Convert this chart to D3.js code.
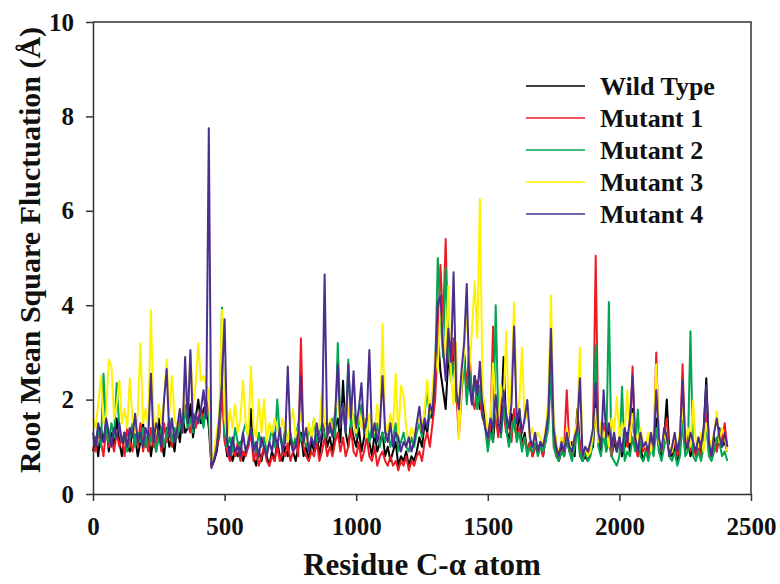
<!DOCTYPE html>
<html>
<head>
    <meta charset="utf-8">
    <title>RMSF</title>
    <style>
        * { margin: 0; padding: 0; }
        body { background: #fff; }
        text { font-family: "Liberation Serif", "Times New Roman", serif; font-weight: bold; fill: #111; }
    </style>
    <script src="https://cdn.jsdelivr.net/npm/d3@7"></script>
</head>
<body>
    <div id="root"></div>

    <script>
        // residue index of every sample (one sample each 10 residues)
        var residues = d3.range(0, 2411, 10);

        var seriesNames = ["Wild Type", "Mutant 1", "Mutant 2", "Mutant 3", "Mutant 4"];
        var seriesColors = ["#000000", "#ed1c24", "#00a650", "#fff200", "#4b2e8f"];
        var xTicks = [0, 500, 1000, 1500, 2000, 2500];
        var yTicks = [0, 2, 4, 6, 8, 10];

        var wildType = [
            0.9, 1.2, 0.8, 1.4, 1.1, 1.5, 0.9, 1.3, 1.0, 1.6,
            1.1, 0.8, 1.3, 1.0, 0.9, 1.4, 1.2, 0.8, 1.1, 1.5,
            1.0, 1.3, 0.8, 1.2, 0.9, 1.6, 1.1, 0.8, 1.4, 1.0,
            1.2, 0.9, 1.5, 1.1, 1.7, 1.3, 1.4, 1.9, 1.2, 1.6,
            2.0, 1.5, 1.8, 1.9, 1.4, 0.6, 0.7, 0.9, 1.3, 2.7,
            1.2, 0.8, 1.0, 0.7, 0.9, 0.8, 1.1, 0.7, 0.9, 1.0,
            1.8, 0.8, 0.6, 0.9, 0.7, 1.0, 0.8, 0.6, 0.9, 0.7,
            1.1, 0.8, 0.7, 1.0, 0.8, 1.2, 0.9, 0.7, 1.0, 1.3,
            0.8, 1.0, 0.7, 1.1, 0.9, 1.3, 0.8, 1.2, 1.5, 1.0,
            1.2, 0.9, 1.4, 1.6, 1.1, 2.4, 1.3, 1.0, 1.5, 1.2,
            1.0, 1.4, 0.9, 1.2, 1.6, 1.1, 0.8, 1.3, 0.9, 1.1,
            1.3, 0.8, 1.0, 0.7, 0.9, 1.1, 0.6, 0.8, 0.7, 0.9,
            0.6, 0.8, 0.7, 0.9, 1.2, 1.0, 1.5, 1.3, 1.8, 1.6,
            2.3, 3.4, 2.6, 2.2, 1.8, 2.9, 2.5, 3.1, 2.0, 1.7,
            2.4, 3.0, 2.1, 2.7, 1.9, 2.5, 2.2, 1.8, 2.0, 1.6,
            1.2, 1.5, 1.1, 1.8, 1.3, 1.6, 2.9, 1.4, 1.1, 1.7,
            1.5, 1.2, 1.8, 1.0, 1.3, 0.9, 1.1, 0.8, 1.0, 0.9,
            1.1, 0.8, 1.2, 1.6, 3.3, 1.3, 0.9, 0.7, 1.0, 0.8,
            1.2, 0.9, 1.1, 0.8, 1.8, 1.0, 0.7, 0.8, 0.7, 0.9,
            1.0, 2.0, 1.2, 0.9, 1.3, 1.0, 1.4, 0.8, 1.1, 0.9,
            1.2, 0.8, 1.0, 1.3, 0.9, 1.8, 1.1, 0.8, 1.0, 0.7,
            0.9, 0.8, 1.1, 0.9, 1.6, 1.0, 0.8, 1.2, 2.0, 0.9,
            0.8, 1.0, 0.7, 1.1, 1.7, 0.9, 1.2, 0.8, 1.0, 0.9,
            1.1, 0.8, 1.3, 2.45, 1.0, 0.8, 1.2, 0.9, 1.4, 1.0,
            1.1, 0.9
        ];

        var mutant1 = [
            1.0, 0.9, 1.3, 1.1, 0.8, 1.4, 1.0, 1.2, 0.9, 1.3,
            1.0, 1.2, 0.8, 1.4, 1.1, 0.9, 1.3, 1.0, 1.5, 0.9,
            1.2, 0.9, 1.4, 1.0, 1.1, 1.3, 0.9, 1.5, 1.1, 1.4,
            1.0, 1.3, 1.2, 1.6, 1.4, 1.9, 1.5, 1.3, 1.7, 1.4,
            1.6, 1.8, 1.5, 2.0, 1.7, 0.6, 0.8, 1.0, 1.2, 2.2,
            1.1, 0.9, 0.7, 1.0, 0.8, 1.1, 0.7, 0.9, 0.8, 1.0,
            1.3, 0.7, 0.9, 0.6, 0.8, 1.0, 0.7, 0.6, 0.8, 0.7,
            1.0, 0.7, 0.9, 0.8, 1.1, 0.7, 0.9, 1.2, 0.8, 3.3,
            1.0, 0.8, 0.7, 0.9, 0.8, 1.1, 0.7, 0.9, 1.2, 0.8,
            1.0, 0.8, 1.1, 1.3, 0.9, 1.2, 0.8, 1.0, 1.4, 0.9,
            0.8, 1.1, 0.7, 0.9, 1.2, 0.8, 0.7, 1.0, 0.6, 0.8,
            0.9, 0.7, 0.6, 0.8, 0.6, 0.7, 0.5, 0.7, 0.6, 0.8,
            0.5, 0.7, 0.6, 0.8, 0.9, 0.7, 1.1, 1.3, 1.0, 1.5,
            2.0, 3.2, 4.85, 3.6, 5.4, 3.0, 2.6, 3.3, 2.2, 1.2,
            2.1, 2.8, 2.3, 3.1, 2.0, 1.8, 2.4, 2.0, 1.6, 1.5,
            1.1, 1.4, 3.55, 1.6, 1.2, 2.2, 1.7, 1.3, 1.5, 1.1,
            1.8, 1.2, 1.4, 1.0, 1.2, 0.9, 1.1, 0.8, 1.0, 0.9,
            1.0, 0.8, 1.3, 1.5, 3.0, 1.2, 0.8, 0.7, 0.9, 1.0,
            2.2, 1.0, 0.8, 1.1, 1.6, 1.0, 0.7, 0.9, 0.8, 1.0,
            1.3, 5.05, 1.2, 1.0, 1.5, 0.9, 1.1, 0.8, 1.2, 1.0,
            1.1, 0.9, 1.3, 1.0, 1.2, 2.7, 1.0, 0.8, 1.1, 0.9,
            1.0, 0.8, 1.2, 0.9, 3.0, 1.1, 0.9, 1.3, 1.6, 0.8,
            0.9, 1.1, 0.8, 1.0, 2.75, 1.0, 1.2, 0.9, 1.1, 0.8,
            1.0, 0.8, 1.2, 1.7, 0.9, 0.8, 1.1, 0.9, 1.3, 1.1,
            1.5, 1.0
        ];

        var mutant2 = [
            1.2, 1.1, 1.4, 1.0, 2.55, 1.3, 1.1, 1.5, 1.2, 2.35,
            1.4, 1.1, 1.3, 0.9, 1.2, 1.5, 1.0, 1.3, 1.1, 1.4,
            1.0, 1.3, 1.1, 1.5, 0.9, 1.2, 1.4, 1.0, 1.3, 1.6,
            1.1, 1.4, 1.2, 1.5, 1.3, 1.8, 1.4, 1.6, 1.3, 1.7,
            1.5, 1.7, 1.4, 1.9, 1.6, 0.7, 0.8, 1.1, 1.4, 3.95,
            1.3, 1.0, 1.2, 0.9, 1.4, 1.1, 1.0, 1.3, 1.5, 1.2,
            1.4, 1.1, 0.9, 1.3, 1.0, 1.2, 0.9, 1.1, 1.4, 1.0,
            2.0, 1.2, 1.0, 1.4, 1.1, 1.3, 1.0, 1.2, 1.5, 1.1,
            1.3, 1.0, 1.4, 1.2, 1.6, 1.1, 1.3, 1.5, 1.2, 1.4,
            1.3, 1.6, 1.2, 3.2, 1.5, 1.8, 1.3, 2.85, 1.4, 1.7,
            1.2, 1.5, 1.9, 1.3, 1.6, 1.1, 1.4, 1.2, 1.5, 1.0,
            1.3, 1.1, 1.4, 1.0, 1.2, 1.5, 0.9, 1.1, 1.3, 1.0,
            0.9, 1.2, 1.0, 1.3, 1.5, 1.2, 1.7, 2.2, 1.6, 2.0,
            2.6, 5.0, 3.8, 2.9, 4.8, 3.2, 2.4, 2.8, 2.0, 1.9,
            2.2, 2.9, 1.9, 2.6, 2.1, 2.4, 1.8, 2.3, 1.7, 1.4,
            0.9, 1.3, 1.1, 4.0, 1.6, 1.2, 1.9, 1.4, 1.0, 1.3,
            1.6, 1.1, 1.3, 0.9, 1.2, 0.8, 1.0, 0.9, 1.1, 0.8,
            1.0, 0.9, 1.1, 1.4, 2.6, 1.0, 0.8, 0.7, 0.9, 0.8,
            1.2, 0.9, 0.7, 1.0, 1.4, 0.8, 0.7, 0.9, 0.7, 0.8,
            1.1, 3.15, 1.0, 0.8, 1.3, 0.9, 4.07, 0.8, 0.7, 0.6,
            0.8, 2.27, 0.7, 0.9, 0.8, 1.2, 0.9, 1.79, 0.8, 0.7,
            0.9, 0.7, 1.0, 0.8, 1.4, 0.9, 0.7, 1.0, 1.3, 0.8,
            0.7, 0.9, 0.6, 0.8, 1.5, 0.8, 0.9, 3.45, 0.8, 0.7,
            0.9, 0.7, 1.0, 1.5, 0.8, 0.7, 0.9, 1.2, 1.1, 0.8,
            0.9, 0.7
        ];

        var mutant3 = [
            1.6, 1.4, 1.9, 2.5, 1.5, 1.7, 2.85, 2.7, 1.6, 1.9,
            2.4, 1.5, 1.8, 1.4, 2.45, 1.6, 1.3, 1.7, 3.2, 1.5,
            1.8, 1.4, 3.9, 1.6, 1.3, 1.9, 1.5, 2.0, 2.85, 1.7,
            2.5, 1.6, 1.4, 1.8, 1.5, 2.2, 1.7, 3.0, 1.9, 2.3,
            3.2, 2.4, 2.5, 2.3, 2.2, 0.7, 0.9, 1.3, 1.7, 3.9,
            1.6, 1.2, 1.8, 1.4, 1.9, 1.3, 1.6, 2.4, 1.5, 1.2,
            2.7, 1.4, 1.2, 2.0, 1.3, 2.0, 1.1, 1.5, 1.3, 1.6,
            1.4, 1.2, 1.6, 1.3, 1.1, 1.5, 1.8, 1.2, 1.4, 1.7,
            1.3, 1.1, 1.5, 1.2, 1.6, 1.3, 1.4, 2.2, 1.5, 1.2,
            1.6, 1.3, 1.8, 2.0, 1.5, 1.9, 1.4, 1.7, 2.1, 1.5,
            1.3, 1.8, 1.4, 1.6, 1.2, 1.7, 1.5, 1.3, 1.9, 1.4,
            3.6, 1.5, 1.3, 1.7, 1.4, 2.55, 1.2, 2.3, 2.1, 1.4,
            1.1, 1.4, 1.2, 1.5, 1.6, 1.3, 1.8, 2.42, 1.7, 2.2,
            3.0, 2.6, 4.0, 3.4, 2.8, 4.4, 2.5, 1.9, 3.2, 1.15,
            2.3, 3.0, 3.97, 2.6, 3.5, 4.5, 3.3, 6.25, 2.2, 1.8,
            1.3, 1.6, 2.77, 1.8, 1.5, 2.3, 1.9, 3.45, 1.7, 2.4,
            4.05, 1.6, 2.0, 3.1, 1.5, 1.8, 1.2, 1.4, 1.1, 1.3,
            1.2, 1.0, 1.4, 2.0, 4.2, 1.6, 1.1, 0.8, 1.2, 0.9,
            1.4, 1.1, 0.9, 1.3, 1.6, 3.1, 0.8, 1.0, 0.8, 0.9,
            1.3, 1.8, 1.1, 1.5, 1.2, 1.4, 1.0, 1.6, 1.3, 2.06,
            1.2, 1.5, 1.3, 2.2, 1.1, 1.7, 1.3, 1.0, 1.4, 1.1,
            1.0, 1.3, 0.9, 1.2, 2.75, 1.1, 0.9, 1.3, 1.1, 1.0,
            0.9, 1.2, 1.0, 1.3, 1.8, 1.1, 1.4, 1.0, 1.99, 1.1,
            1.0, 1.3, 0.9, 1.5, 1.2, 1.0, 1.3, 1.75, 1.1, 1.4,
            1.2, 0.9
        ];

        var mutant4 = [
            1.3, 1.0, 1.5, 1.2, 1.1, 1.6, 1.3, 1.0, 1.4, 1.2,
            1.5, 1.1, 1.3, 1.0, 1.4, 1.2, 1.7, 1.1, 1.3, 1.0,
            1.4, 1.2, 2.55, 1.1, 1.5, 1.3, 1.0, 2.0, 2.65, 1.2,
            1.6, 1.1, 1.4, 1.8, 1.3, 2.9, 1.5, 3.05, 1.4, 1.7,
            1.5, 1.8, 2.2, 1.6, 7.75, 0.55, 0.7, 1.0, 1.6, 2.4,
            3.7, 1.1, 0.8, 1.2, 0.9, 1.0, 0.8, 1.3, 0.9, 1.1,
            1.4, 0.9, 1.1, 0.8, 1.2, 1.0, 0.8, 1.1, 0.9, 1.3,
            1.0, 1.4, 0.9, 1.1, 2.7, 1.2, 0.9, 1.0, 1.3, 2.5,
            1.1, 1.4, 0.9, 1.2, 1.0, 1.5, 1.1, 1.3, 4.65, 1.2,
            1.5, 1.2, 1.7, 2.75, 1.4, 1.9, 1.3, 2.75, 1.6, 2.6,
            1.4, 1.8, 2.35, 1.3, 1.6, 3.05, 1.2, 1.5, 1.1, 1.4,
            2.5, 1.3, 1.1, 1.5, 1.0, 1.3, 1.2, 0.9, 1.1, 1.0,
            1.2, 0.9, 1.1, 1.5, 1.85, 1.3, 1.6, 1.4, 1.9, 1.7,
            2.7, 4.05, 4.2, 3.1, 2.4, 3.5, 2.8, 4.7, 2.2, 1.8,
            2.6, 3.2, 4.45, 2.3, 1.9, 2.5, 2.1, 2.8, 1.7, 1.4,
            1.2, 1.6, 1.4, 2.1, 1.5, 1.3, 2.2, 1.7, 1.4, 1.9,
            3.55, 1.5, 1.8, 1.3, 1.6, 1.99, 1.2, 1.0, 1.3, 0.9,
            1.1, 1.0, 1.3, 1.7, 3.5, 1.4, 1.0, 0.8, 1.1, 0.9,
            1.3, 1.0, 0.9, 1.2, 1.4, 2.45, 0.8, 1.0, 0.9, 1.1,
            1.4, 2.35, 1.3, 1.0, 2.2, 1.2, 1.5, 1.0, 1.3, 0.9,
            1.2, 0.9, 1.4, 1.1, 1.6, 2.5, 1.2, 0.9, 1.3, 1.0,
            1.1, 0.9, 1.3, 1.0, 2.2, 1.2, 0.9, 1.4, 1.2, 0.8,
            1.0, 1.3, 0.9, 1.2, 2.4, 1.1, 1.0, 1.3, 1.1, 0.9,
            1.2, 1.0, 1.4, 2.3, 1.1, 0.8, 1.3, 1.6, 1.2, 1.0,
            1.3, 1.0
        ];

        var allSeries = [wildType, mutant1, mutant2, mutant3, mutant4];

        render("#root");

        function render(root) {
            var width = 780;
            var height = 584;
            var left = 93, right = 751, top = 22, bottom = 494;

            var svg = d3.select(root).append("svg")
                .attr("width", width).attr("height", height);

            var x = d3.scaleLinear().domain([0, 2500]).range([left, right]);
            var y = d3.scaleLinear().domain([0, 10]).range([bottom, top]);

            // lines first, frame and axes on top
            var line = d3.line()
                .x(function (d, i) { return x(residues[i]); })
                .y(function (d) { return y(d); });

            svg.append("g").attr("class", "lines").selectAll("path")
                .data(allSeries).enter()
                .append("path")
                .attr("d", line)
                .attr("fill", "none")
                .attr("stroke", function (d, i) { return seriesColors[i]; })
                .attr("stroke-width", 2)
                .attr("stroke-linejoin", "round");

            // top and right frame
            svg.append("path")
                .attr("d", `M${left},${top}H${right}V${bottom}`)
                .attr("fill", "none")
                .attr("stroke", "#333")
                .attr("stroke-width", 1.5);

            var xAxis = d3.axisBottom(x).tickValues(xTicks)
                .tickFormat(d3.format("d"))
                .tickSize(7).tickSizeOuter(0).tickPadding(16);
            svg.append("g").attr("class", "x-axis")
                .attr("transform", `translate(0, ${bottom})`)
                .call(xAxis);

            var yAxis = d3.axisLeft(y).tickValues(yTicks)
                .tickFormat(d3.format("d"))
                .tickSize(7).tickSizeOuter(0).tickPadding(12);
            svg.append("g").attr("class", "y-axis")
                .attr("transform", `translate(${left}, 0)`)
                .call(yAxis);

            svg.selectAll(".x-axis path, .y-axis path, .tick line")
                .attr("stroke", "#333").attr("stroke-width", 1.5);
            svg.selectAll(".tick text")
                .attr("font-family", "Liberation Serif, Times New Roman, serif")
                .attr("font-weight", "bold")
                .attr("font-size", 25)
                .attr("fill", "#111");

            // axis titles
            svg.append("text")
                .attr("x", (left + right) / 2).attr("y", 575)
                .attr("text-anchor", "middle")
                .attr("font-size", 31)
                .text("Residue C-α atom");

            svg.append("text")
                .attr("transform", "translate(40, 250) rotate(-90)")
                .attr("text-anchor", "middle")
                .attr("font-size", 30)
                .text("Root Mean Square Fluctuation (Å)");

            // legend
            var legend = svg.append("g").attr("class", "legend")
                .attr("transform", "translate(526, 86)");
            var rows = legend.selectAll("g").data(seriesNames).enter()
                .append("g")
                .attr("transform", function (d, i) { return `translate(0, ${i * 32})`; });
            rows.append("line")
                .attr("x1", 0).attr("x2", 59)
                .attr("stroke", function (d, i) { return seriesColors[i]; })
                .attr("stroke-width", 1.5);
            rows.append("text")
                .attr("x", 74).attr("dy", "0.35em")
                .attr("font-size", 26)
                .text(function (d) { return d; });
        }
    </script>
</body>
</html>
